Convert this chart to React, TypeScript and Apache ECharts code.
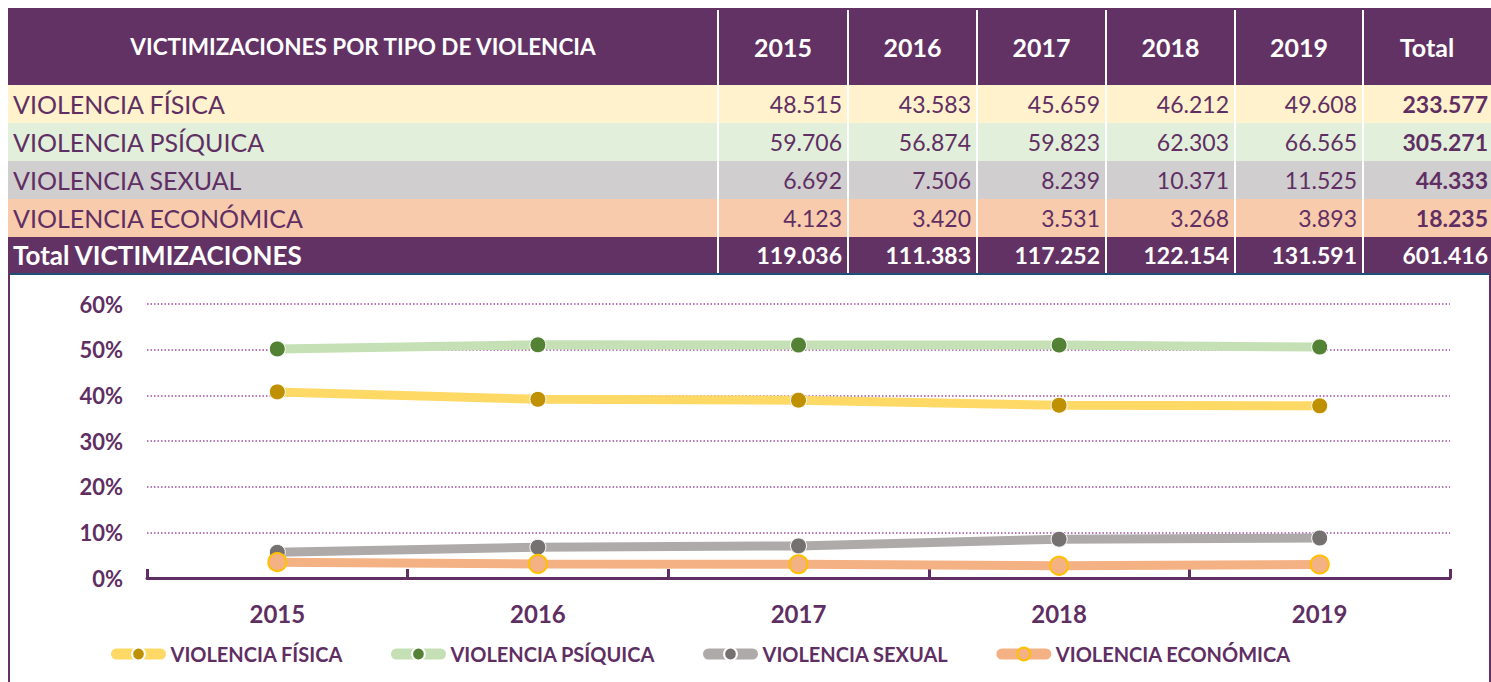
import React, { useEffect, useRef } from "react";
import * as echarts from "echarts";

const years = ["2015", "2016", "2017", "2018", "2019"];
const headerTitle = "VICTIMIZACIONES POR TIPO DE VIOLENCIA";
const totalHeader = "Total";
const rowNames = ["VIOLENCIA FÍSICA", "VIOLENCIA PSÍQUICA", "VIOLENCIA SEXUAL", "VIOLENCIA ECONÓMICA"];
const fisica = [48515, 43583, 45659, 46212, 49608];
const psiquica = [59706, 56874, 59823, 62303, 66565];
const sexual = [6692, 7506, 8239, 10371, 11525];
const economica = [4123, 3420, 3531, 3268, 3893];
const rowTotals = [233577, 305271, 44333, 18235];
const yearTotals = [119036, 111383, 117252, 122154, 131591];
const grandTotal = 601416;
const totalRowName = "Total VICTIMIZACIONES";
const yTicks = [0, 0.1, 0.2, 0.3, 0.4, 0.5, 0.6];

const PURPLE = "#633265";
const TEXT = "#5f2f63";
const FONT = "Lato, 'Open Sans', sans-serif";
const rowBg = ["#fff2cc", "#e2efda", "#d0cece", "#f8cbad"];
const lineColors = ["#ffd966", "#c5e0b4", "#aeaaaa", "#f4b183"];
const markerColors = ["#bf9000", "#548235", "#767171", "#f4b183"];

const fmt = (n: number) => String(n).replace(/\B(?=(\d{3})+(?!\d))/g, ".");

export default function App() {
  const ref = useRef<HTMLDivElement>(null);
  useEffect(() => {
    document.body.style.margin = "0";
    if (!ref.current) return;
    const chart = echarts.init(ref.current, null, { renderer: "svg" });
    const X0 = 8;
    const XR = 1491;
    const colX = [X0, 718, 848, 977, 1106, 1235, 1363, XR];
    const top0 = 8;
    const headerBottom = 85;
    const rowTop = [85, 123, 161, 199, 237];
    const rowH = 38;
    const totalH = 36;
    const tableBottom = rowTop[4] + totalH;
    const rows = [fisica, psiquica, sexual, economica];

    const g: any[] = [];
    g.push({ type: "rect", shape: { x: X0, y: top0, width: XR - X0, height: headerBottom - top0 }, style: { fill: PURPLE }, silent: true });
    rows.forEach((_, i) => {
      g.push({ type: "rect", shape: { x: X0, y: rowTop[i], width: XR - X0, height: rowH }, style: { fill: rowBg[i] }, silent: true });
    });
    g.push({ type: "rect", shape: { x: X0, y: rowTop[4], width: XR - X0, height: totalH }, style: { fill: PURPLE }, silent: true });
    g.push({ type: "rect", shape: { x: X0, y: tableBottom, width: XR - X0, height: 2 }, style: { fill: "#1f4e79" }, silent: true });
    for (let c = 1; c < colX.length - 1; c++) {
      g.push({ type: "rect", shape: { x: colX[c] - 1, y: top0 + 2, width: 2, height: tableBottom - top0 - 2 }, style: { fill: "#ffffff" }, silent: true });
    }
    g.push({ type: "rect", shape: { x: X0, y: tableBottom, width: 2, height: 682 - tableBottom }, style: { fill: PURPLE }, silent: true });
    g.push({ type: "rect", shape: { x: XR - 2, y: tableBottom, width: 2, height: 682 - tableBottom }, style: { fill: PURPLE }, silent: true });

    const hy = (top0 + headerBottom) / 2;
    g.push({ type: "text", x: (colX[0] + colX[1]) / 2, y: hy, style: { text: headerTitle, fill: "#fff", font: `bold 22.5px ${FONT}`, align: "center", verticalAlign: "middle" }, silent: true });
    years.forEach((y, i) => {
      g.push({ type: "text", x: (colX[i + 1] + colX[i + 2]) / 2, y: hy, style: { text: y, fill: "#fff", font: `bold 25px ${FONT}`, align: "center", verticalAlign: "middle" }, silent: true });
    });
    g.push({ type: "text", x: (colX[6] + colX[7]) / 2, y: hy, style: { text: totalHeader, fill: "#fff", font: `bold 25px ${FONT}`, align: "center", verticalAlign: "middle" }, silent: true });

    rows.forEach((vals, i) => {
      const cy = rowTop[i] + rowH / 2;
      g.push({ type: "text", x: 13, y: cy, style: { text: rowNames[i], fill: TEXT, font: `25px ${FONT}`, align: "left", verticalAlign: "middle" }, silent: true });
      vals.forEach((v, j) => {
        g.push({ type: "text", x: colX[j + 2] - 6, y: cy, style: { text: fmt(v), fill: TEXT, font: `23px ${FONT}`, align: "right", verticalAlign: "middle" }, silent: true });
      });
      g.push({ type: "text", x: colX[7] - 3, y: cy, style: { text: fmt(rowTotals[i]), fill: TEXT, font: `bold 23px ${FONT}`, align: "right", verticalAlign: "middle" }, silent: true });
    });
    const ty = rowTop[4] + totalH / 2;
    g.push({ type: "text", x: 13, y: ty, style: { text: totalRowName, fill: "#fff", font: `bold 26px ${FONT}`, align: "left", verticalAlign: "middle" }, silent: true });
    yearTotals.forEach((v, j) => {
      g.push({ type: "text", x: colX[j + 2] - 6, y: ty, style: { text: fmt(v), fill: "#fff", font: `bold 23px ${FONT}`, align: "right", verticalAlign: "middle" }, silent: true });
    });
    g.push({ type: "text", x: colX[7] - 3, y: ty, style: { text: fmt(grandTotal), fill: "#fff", font: `bold 23px ${FONT}`, align: "right", verticalAlign: "middle" }, silent: true });

    const shares = rows.map((vals) => vals.map((v, i) => v / yearTotals[i]));

    const series = rowNames.map((name, i) => ({
      name,
      type: "line",
      data: shares[i],
      symbol: "circle",
      symbolSize: i === 3 ? 18 : 16,
      lineStyle: { color: lineColors[i], width: 9 },
      itemStyle: {
        color: markerColors[i],
        borderColor: i === 3 ? "#ffc000" : "#ffffff",
        borderWidth: i === 3 ? 2 : 1,
      },
      z: 2 + i,
    }));

    chart.setOption({
      animation: false,
      textStyle: { fontFamily: FONT },
      graphic: g,
      grid: { left: 147, right: 41, top: 304, bottom: 104, containLabel: false },
      xAxis: {
        type: "category",
        data: years,
        boundaryGap: true,
        axisLine: { lineStyle: { color: TEXT, width: 3 } },
        axisTick: { show: true, inside: true, length: 9, lineStyle: { color: TEXT, width: 3 } },
        axisLabel: { color: TEXT, fontWeight: "bold", fontSize: 24, margin: 23, fontFamily: FONT },
        splitLine: { show: false },
      },
      yAxis: {
        type: "value",
        min: yTicks[0],
        max: yTicks[yTicks.length - 1],
        interval: 0.1,
        axisLine: { show: false },
        axisTick: { show: false },
        axisLabel: {
          color: TEXT,
          fontWeight: "bold",
          fontSize: 22,
          margin: 24,
          fontFamily: FONT,
          formatter: (v: number) => `${Math.round(v * 100)}%`,
        },
        splitLine: { lineStyle: { color: "#a24ca3", width: 1.5, type: [1.5, 2] } },
      },
      legend: {
        left: 106,
        top: 639,
        itemWidth: 44,
        itemHeight: 16,
        itemGap: 48,
        lineStyle: { width: 11, cap: "round" },
        textStyle: { color: TEXT, fontWeight: "bold", fontSize: 20, fontFamily: FONT, padding: [0, 0, 0, 5] },
        data: rowNames,
      },
      series,
    });
    return () => chart.dispose();
  }, []);
  return <div ref={ref} style={{ width: 1491, height: 682 }} />;
}
